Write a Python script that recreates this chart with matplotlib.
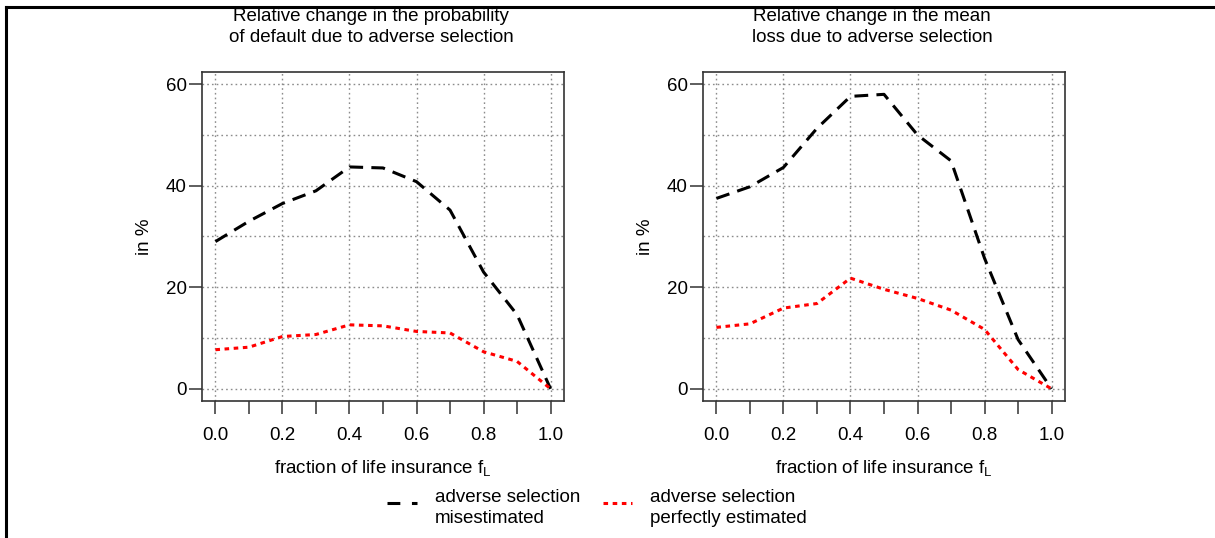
import matplotlib
matplotlib.use('Agg')
import matplotlib.pyplot as plt
from matplotlib.lines import Line2D

plt.rcParams['font.family'] = ['Liberation Sans', 'DejaVu Sans']
plt.rcParams['mathtext.fontset'] = 'custom'
plt.rcParams['mathtext.rm'] = 'Liberation Sans'

# fraction of life insurance in the portfolio
f_life = [0.0, 0.1, 0.2, 0.3, 0.4, 0.5, 0.6, 0.7, 0.8, 0.9, 1.0]
# relative change in probability of default (%)
pd_mis = [29.0, 33.0, 36.5, 39.0, 43.7, 43.5, 40.8, 35.2, 23.0, 14.6, 0.0]
pd_perf = [7.7, 8.2, 10.3, 10.7, 12.6, 12.4, 11.3, 11.0, 7.3, 5.4, 0.0]
# relative change in mean loss (%)
el_mis = [37.5, 39.8, 43.6, 51.3, 57.6, 58.0, 50.0, 44.9, 25.7, 9.7, 0.0]
el_perf = [12.1, 12.8, 15.9, 16.8, 21.8, 19.6, 17.8, 15.5, 11.7, 3.8, 0.0]

titles = ['Relative change in the probability\nof default due to adverse selection',
          'Relative change in the mean\nloss due to adverse selection']
series_labels = ['adverse selection\nmisestimated', 'adverse selection\nperfectly estimated']
xticks = [0.0, 0.1, 0.2, 0.3, 0.4, 0.5, 0.6, 0.7, 0.8, 0.9, 1.0]
xlabels = ['0.0', '', '0.2', '', '0.4', '', '0.6', '', '0.8', '', '1.0']
yticks = [0, 20, 40, 60]

W, H = 1215, 538
FS = 13.5
fig = plt.figure(figsize=(W / 100, H / 100), dpi=100)


def box(x0, y0, x1, y1):
    return [x0 / W, 1 - y1 / H, (x1 - x0) / W, (y1 - y0) / H]


mis_style = dict(color='black', lw=2.2, linestyle=(0, (4.5, 2.7)))
perf_style = dict(color='#ff0000', lw=2.2, linestyle=(0, (1.5, 1.5)))
grid_style = dict(color='#8c8c8c', lw=1.0, linestyle=(0, (1.2, 2.2)), zorder=0)

panels = [(box(202, 72, 564, 401), pd_mis, pd_perf, titles[0]),
          (box(703, 72, 1065, 401), el_mis, el_perf, titles[1])]

for rect, mis, perf, title in panels:
    ax = fig.add_axes(rect)
    for gx in [0.0, 0.2, 0.4, 0.6, 0.8, 1.0]:
        ax.axvline(gx, **grid_style)
    for gy in range(0, 61, 10):
        ax.axhline(gy, **grid_style)
    ax.plot(f_life, mis, **mis_style)
    ax.plot(f_life, perf, **perf_style)
    ax.set_xlim(-0.04, 1.04)
    ax.set_ylim(-2.4, 62.4)
    ax.set_xticks(xticks)
    ax.set_xticklabels(xlabels)
    ax.set_yticks(yticks)
    ax.tick_params(axis='x', direction='out', length=9, width=1.1, pad=10, labelsize=FS, color='#333333')
    ax.tick_params(axis='y', direction='out', length=9.5, width=1.1, pad=1.5, labelsize=FS, color='#333333')
    for sp in ax.spines.values():
        sp.set_linewidth(1.2)
        sp.set_color('#333333')
    ax.set_ylabel('in %', fontsize=FS, labelpad=9)
    cx = rect[0] + rect[2] / 2
    fig.text(cx, 1 - 468 / H, r'fraction of life insurance $\mathregular{f_L}$',
             ha='center', va='center', fontsize=FS)
    fig.text(cx - 12 / W, 1 - 27 / H, title, ha='center', va='center',
             fontsize=FS, linespacing=1.3)

# legend below the panels
fig.add_artist(Line2D([387 / W, 417 / W], [1 - 503 / H] * 2, transform=fig.transFigure,
                      color='black', lw=2.2, linestyle=(0, (4.2, 3.8))))
fig.text(435 / W, 1 - 508 / H, series_labels[0], ha='left', va='center', fontsize=FS, linespacing=1.25)
fig.add_artist(Line2D([603 / W, 632 / W], [1 - 503 / H] * 2, transform=fig.transFigure, **perf_style))
fig.text(650 / W, 1 - 508 / H, series_labels[1], ha='left', va='center', fontsize=FS, linespacing=1.25)

# page frame lines
fig.add_artist(Line2D([6 / W, 1.0], [1 - 7 / H] * 2, transform=fig.transFigure, color='black', lw=2.2))
fig.add_artist(Line2D([6 / W] * 2, [0.0, 1 - 7 / H], transform=fig.transFigure, color='black', lw=2.2))

fig.savefig('out.png', dpi=100)
